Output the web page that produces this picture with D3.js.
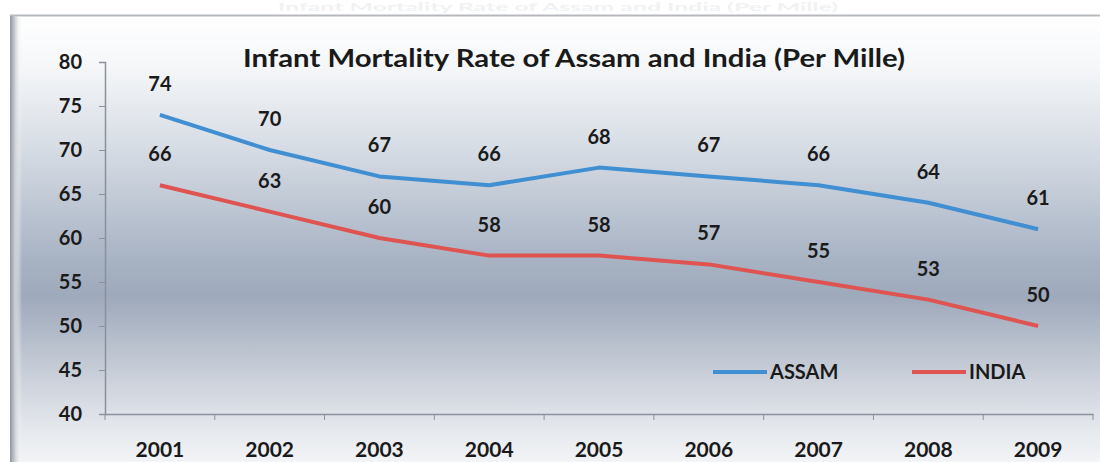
<!DOCTYPE html>
<html>
<head>
<meta charset="utf-8">
<script src="https://cdn.jsdelivr.net/npm/d3@7/dist/d3.min.js"></script>
<style>
html,body{margin:0;padding:0;background:#fff;}
svg{display:block;}
text{font-family:Lato,"Open Sans",sans-serif;font-weight:bold;fill:#1a1a1a;}
</style>
</head>
<body>
<svg id="c" width="1100" height="462"></svg>
<script>
const years = ["2001","2002","2003","2004","2005","2006","2007","2008","2009"];
const assam = [74,70,67,66,68,67,66,64,61];
const india = [66,63,60,58,58,57,55,53,50];
const yTicks = [40,45,50,55,60,65,70,75,80];
const seriesNames = ["ASSAM","INDIA"];
const seriesColors = ["#3f8fd2","#df5351"];
const titleText = "Infant Mortality Rate of Assam and India (Per Mille)";

const svg = d3.select("#c");
const defs = svg.append("defs");
const g1 = defs.append("linearGradient").attr("id","bg").attr("x1",0).attr("y1",0).attr("x2",0).attr("y2",1);
[[0,"#ffffff"],[0.12,"#f4f6f8"],[0.3,"#d6dce4"],[0.55,"#a7b2c3"],[0.63,"#9ea9bb"],[0.8,"#c8ced8"],[0.93,"#e6e9ee"],[1,"#f2f4f6"]]
  .forEach(([o,c])=>g1.append("stop").attr("offset",o).attr("stop-color",c));
const g2 = defs.append("linearGradient").attr("id","edge").attr("x1",0).attr("y1",0).attr("x2",1).attr("y2",0);
[[0,"#8e959c"],[0.4,"#c9ced3"],[1,"rgba(255,255,255,0)"]]
  .forEach(([o,c])=>g2.append("stop").attr("offset",o).attr("stop-color",c));

// faint header text (barely visible in the reference)
svg.append("text").attr("x",558).attr("y",11).attr("text-anchor","middle")
  .attr("textLength",560).attr("lengthAdjust","spacingAndGlyphs")
  .style("font-size","11px").style("fill","#f1f2f3").text("Infant Mortality Rate of Assam and India (Per Mille)");

// frame
svg.append("rect").attr("x",10).attr("y",15).attr("width",1090).attr("height",447).attr("fill","url(#bg)");
svg.append("line").attr("x1",10).attr("x2",1100).attr("y1",15.5).attr("y2",15.5).attr("stroke","#b5b9bd").attr("stroke-width",2);
svg.append("rect").attr("x",10).attr("y",16).attr("width",12).attr("height",446).attr("fill","url(#edge)");

const m = {left:105, right:1093, top:62, bottom:414};
const x = d3.scaleBand().domain(years).range([m.left,m.right]);
const y = d3.scaleLinear().domain([40,80]).range([m.bottom,m.top]);

// y axis
const ya = svg.append("g").attr("transform",`translate(${m.left},0)`)
  .call(d3.axisLeft(y).tickValues(yTicks).tickSize(6).tickPadding(17));
ya.select(".domain").attr("stroke","#8a919a").attr("stroke-width",1.5);
ya.selectAll(".tick line").attr("stroke","#8a919a");
ya.selectAll("text").style("font-size","20px").style("font-family","Lato,sans-serif").attr("fill","#1a1a1a");

// x axis
const xa = svg.append("g").attr("transform",`translate(0,${m.bottom})`)
  .call(d3.axisBottom(x).tickSize(0).tickPadding(28));
xa.select(".domain").attr("stroke","#8a919a").attr("stroke-width",1.5);
xa.selectAll("text").style("font-size","21px").style("font-family","Lato,sans-serif").attr("fill","#1a1a1a");
const bounds = years.map(d=>x(d)).concat([m.right]);
xa.selectAll(".sep").data(bounds).enter().append("line").attr("class","sep")
  .attr("x1",d=>d).attr("x2",d=>d).attr("y1",0).attr("y2",6).attr("stroke","#8a919a");

// lines
const cx = d => x(d) + x.bandwidth()/2;
const line = d3.line().x((d,i)=>cx(years[i])).y(d=>y(d));
[assam,india].forEach((s,k)=>{
  svg.append("path").datum(s).attr("d",line).attr("fill","none")
    .attr("stroke",seriesColors[k]).attr("stroke-width",4).attr("stroke-linejoin","round");
  svg.selectAll(".lbl"+k).data(s).enter().append("text")
    .attr("x",(d,i)=>cx(years[i])).attr("y",d=>y(d)-24)
    .attr("text-anchor","middle").style("font-size","20px").text(d=>d);
});

// title
svg.append("text").attr("x",574).attr("y",67).attr("text-anchor","middle")
  .attr("textLength",662).attr("lengthAdjust","spacingAndGlyphs")
  .style("font-size","25px").text(titleText);

// legend
const lg = [{x:713,name:seriesNames[0],c:seriesColors[0]},{x:912,name:seriesNames[1],c:seriesColors[1]}];
lg.forEach(l=>{
  svg.append("line").attr("x1",l.x).attr("x2",l.x+54).attr("y1",372).attr("y2",372)
    .attr("stroke",l.c).attr("stroke-width",4);
  svg.append("text").attr("x",l.x+57).attr("y",379).style("font-size","20px").text(l.name);
});
</script>
</body>
</html>
